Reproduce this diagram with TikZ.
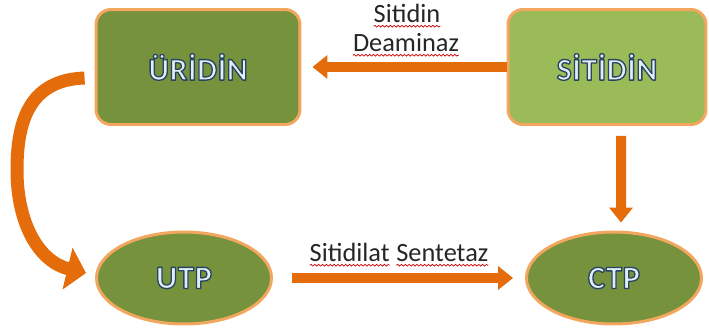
\documentclass[tikz,border=0pt]{standalone}
\usepackage{fontspec}
\setmainfont{Carlito}
\newfontfamily\artfont[LetterSpace=2,UprightFont={* Bold}]{Carlito}
\usetikzlibrary{arrows.meta,shapes.geometric,decorations.pathmorphing}
\definecolor{darkolive}{HTML}{76923C}
\definecolor{lightolive}{HTML}{9BBB59}
\definecolor{rimorange}{HTML}{F2A65E}
\definecolor{arroworange}{HTML}{E46C0A}
\definecolor{artfill}{HTML}{E4EDF7}
% outlined word-art text: light fill, dark blue-grey stroke
\newcommand{\arttext}[1]{{\artfont\color{artfill}\special{pdf:literal direct 0.15 0.27 0.38 RG 0.75 w 1 j 2 Tr}#1\special{pdf:literal direct 0 Tr}}}
\newcommand{\spellwave}[1]{\tikz[baseline=(w.base)]{\node[inner sep=0pt,outer sep=0pt] (w) {#1};\draw[red!80!black,line width=0.4pt,decorate,decoration={snake,amplitude=0.5pt,segment length=2.2pt}] ([yshift=-2.4pt]w.base west) -- ([yshift=-2.4pt]w.base east);}}
\begin{document}
\begin{tikzpicture}[x=0.02cm,y=-0.02cm,
  box/.style={draw=rimorange,line width=1.7pt,rounded corners=0.3cm,minimum height=2.3cm,font=\fontsize{18}{21}\selectfont},
  oval/.style={ellipse,draw=rimorange,line width=1.7pt,fill=darkolive,minimum width=3.5cm,minimum height=1.84cm,font=\fontsize{18.5}{21}\selectfont},
  flow/.style={draw=arroworange,line width=0.2cm,-{Triangle[width=0.46cm,length=0.3cm]}},
  enzyme/.style={text=black!85,font=\fontsize{15}{18}\selectfont,inner sep=0pt,anchor=base}]
\useasboundingbox (0,0) rectangle (709,332);
% nodes
\node[box,fill=darkolive,minimum width=4.08cm] (uridin) at (198,67) {\arttext{ÜRİDİN}};
\node[box,fill=lightolive,minimum width=3.96cm] (sitidin) at (607,67) {\arttext{SİTİDİN}};
\node[oval] (utp) at (184,278) {\arttext{UTP}};
\node[oval] (ctp) at (614,278) {\arttext{CTP}};
% enzyme labels
\node[enzyme] (deamA) at (407,22) {\spellwave{Sitidin}};
\node[enzyme] (deamB) at (406,51) {\spellwave{Deaminaz}};
\node[enzyme] (sentetaz) at (399,261) {\spellwave{Sitidilat} \spellwave{Sentetaz}};
% arrows
\draw[flow,shorten >=0.22cm] (sitidin.west) -- (uridin.east);
\draw[flow,shorten <=0.2cm,shorten >=0.16cm] ([xshift=0.28cm]sitidin.south) -- ([xshift=0.14cm]ctp.north);
\draw[flow,shorten <=0.38cm,shorten >=0.24cm] (utp.east) -- (ctp.west);
% curved arrow
\draw[arroworange,line width=0.26cm,-{Triangle[width=0.84cm,length=0.38cm]}] ([xshift=-0.2cm,yshift=-0.22cm]uridin.west) .. controls (30,80) and (17,120) .. (17,170) .. controls (17,225) and (40,262) .. ([xshift=-0.18cm,yshift=0.1cm]utp.west);
\end{tikzpicture}
\end{document}
